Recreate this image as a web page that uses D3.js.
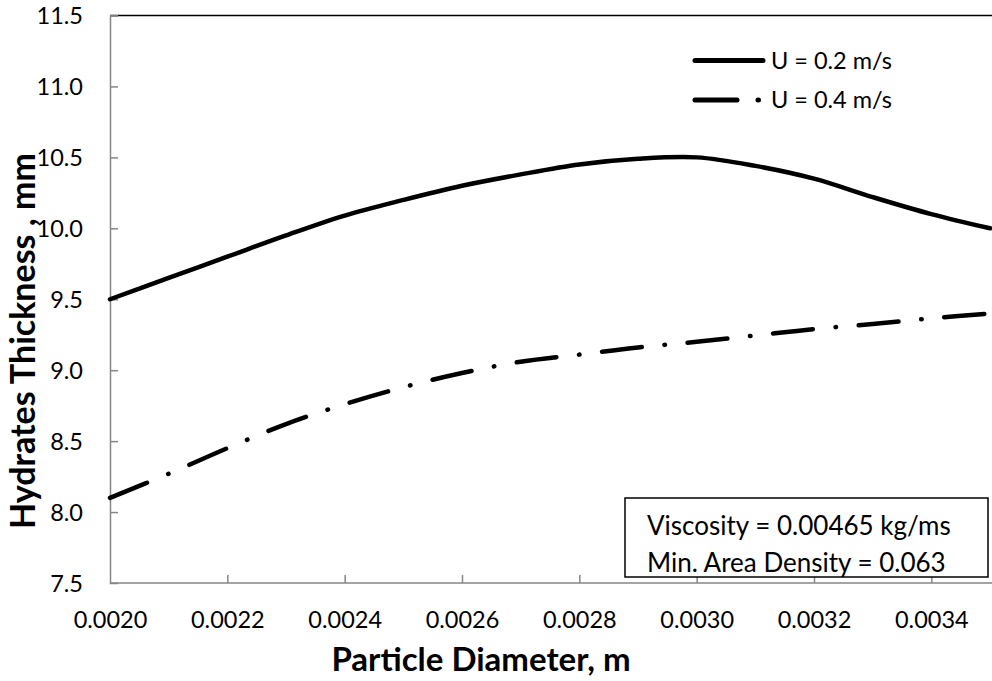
<!DOCTYPE html>
<html>
<head>
<meta charset="utf-8">
<script src="https://cdn.jsdelivr.net/npm/d3@7/dist/d3.min.js"></script>
<style>
  html, body { margin: 0; padding: 0; background: #fff; }
  svg { display: block; }
  text { font-family: Lato, "Open Sans", sans-serif; fill: #000; }
</style>
</head>
<body>
<svg id="chart" width="992" height="681"></svg>
<script>
// Particle diameter (m) at which the thickness was evaluated
const diameters = [0.0020, 0.0021, 0.0022, 0.0023, 0.0024, 0.0025, 0.0026, 0.0027,
                   0.0028, 0.0029, 0.0030, 0.0031, 0.0032, 0.0033, 0.0034, 0.0035];
// Hydrate thickness (mm) for each flow velocity
const thicknessU02 = [9.50, 9.65, 9.80, 9.95, 10.09, 10.20, 10.30, 10.38,
                      10.45, 10.49, 10.50, 10.44, 10.35, 10.22, 10.10, 10.00];
const thicknessU04 = [8.10, 8.27, 8.45, 8.62, 8.76, 8.88, 8.98, 9.06,
                      9.11, 9.16, 9.20, 9.245, 9.29, 9.325, 9.365, 9.40];
const seriesNames = ["U = 0.2 m/s", "U = 0.4 m/s"];
const xTicks = [0.0020, 0.0022, 0.0024, 0.0026, 0.0028, 0.0030, 0.0032, 0.0034];
const yTicks = [7.5, 8.0, 8.5, 9.0, 9.5, 10.0, 10.5, 11.0, 11.5];
const noteLines = ["Viscosity = 0.00465 kg/ms", "Min. Area Density = 0.063"];
const xTitle = "Particle Diameter, m";
const yTitle = "Hydrates Thickness , mm";

const svg = d3.select("#chart");
const plot = { left: 110, right: 990, top: 15.5, bottom: 583 };

const x = d3.scaleLinear().domain([0.0020, 0.0035]).range([plot.left, plot.right]);
const y = d3.scaleLinear().domain([7.5, 11.5]).range([plot.bottom, plot.top]);

const axisColor = "#868686";
const tickFont = 23.5;

// plot-area top border
svg.append("line")
  .attr("x1", plot.left).attr("x2", 992)
  .attr("y1", plot.top).attr("y2", plot.top)
  .attr("stroke", "#000").attr("stroke-width", 1.3);

// y axis: ticks point into the plot
const yAxis = d3.axisLeft(y).tickValues(yTicks).tickSize(-8).tickPadding(27)
  .tickFormat(d3.format(".1f"));
const gy = svg.append("g").attr("transform", `translate(${plot.left},0)`).call(yAxis);
gy.select(".domain").attr("stroke", axisColor).attr("stroke-width", 1.5);
gy.selectAll(".tick line").attr("stroke", axisColor).attr("stroke-width", 1.5);
gy.selectAll(".tick text").attr("font-size", tickFont).attr("font-family", "Lato")
  .attr("dy", "0.35em");
gy.selectAll(".tick").filter(d => d === 7.5).select("line").remove();

// x axis
const xAxis = d3.axisBottom(x).tickValues(xTicks).tickSize(-8).tickPadding(28)
  .tickFormat(d3.format(".4f"));
const gx = svg.append("g").attr("transform", `translate(0,${plot.bottom})`).call(xAxis);
gx.select(".domain").attr("stroke", axisColor).attr("stroke-width", 1.5)
  .attr("d", `M${plot.left},0H992`);
gx.selectAll(".tick line").attr("stroke", axisColor).attr("stroke-width", 1.5);
gx.selectAll(".tick text").attr("font-size", tickFont).attr("font-family", "Lato");
gx.selectAll(".tick").filter(d => d === 0.0020).select("line").remove();

// series lines
const line = d3.line()
  .x(d => x(d[0]))
  .y(d => y(d[1]))
  .curve(d3.curveCatmullRom.alpha(0.5));

const dashDot = "40,22.75,0.5,22.75";

svg.append("path")
  .datum(diameters.map((d, i) => [d, thicknessU02[i]]))
  .attr("d", line)
  .attr("fill", "none").attr("stroke", "#000").attr("stroke-width", 4.5)
  .attr("stroke-linecap", "round");

svg.append("path")
  .datum(diameters.map((d, i) => [d, thicknessU04[i]]))
  .attr("d", line)
  .attr("fill", "none").attr("stroke", "#000").attr("stroke-width", 4.5)
  .attr("stroke-linecap", "round").attr("stroke-dasharray", dashDot);

// legend
const legend = svg.append("g");
const legendRows = [
  { name: seriesNames[0], dash: null, y: 60.5, x2: 763 },
  { name: seriesNames[1], dash: "42,21,0.5,100", y: 100, x2: 762 }
];
legendRows.forEach(r => {
  legend.append("line")
    .attr("x1", 695).attr("x2", r.x2).attr("y1", r.y).attr("y2", r.y)
    .attr("stroke", "#000").attr("stroke-width", 5).attr("stroke-linecap", "round")
    .attr("stroke-dasharray", r.dash);
  legend.append("text")
    .attr("x", 771).attr("y", r.y).attr("dy", "0.35em")
    .attr("font-size", tickFont).text(r.name);
});

// annotation box
svg.append("rect")
  .attr("x", 625).attr("y", 498).attr("width", 363).attr("height", 79)
  .attr("fill", "#fff").attr("stroke", "#000").attr("stroke-width", 1.5);
noteLines.forEach((t, i) => {
  svg.append("text")
    .attr("x", 647).attr("y", 535 + i * 37)
    .attr("font-size", 26).text(t);
});

// axis titles
svg.append("text")
  .attr("x", 481).attr("y", 671)
  .attr("text-anchor", "middle").attr("font-size", 33).attr("font-weight", "bold")
  .text(xTitle);

svg.append("text")
  .attr("transform", `translate(35,341) rotate(-90)`)
  .attr("text-anchor", "middle").attr("font-size", 34).attr("font-weight", "bold")
  .text(yTitle);
</script>
</body>
</html>
